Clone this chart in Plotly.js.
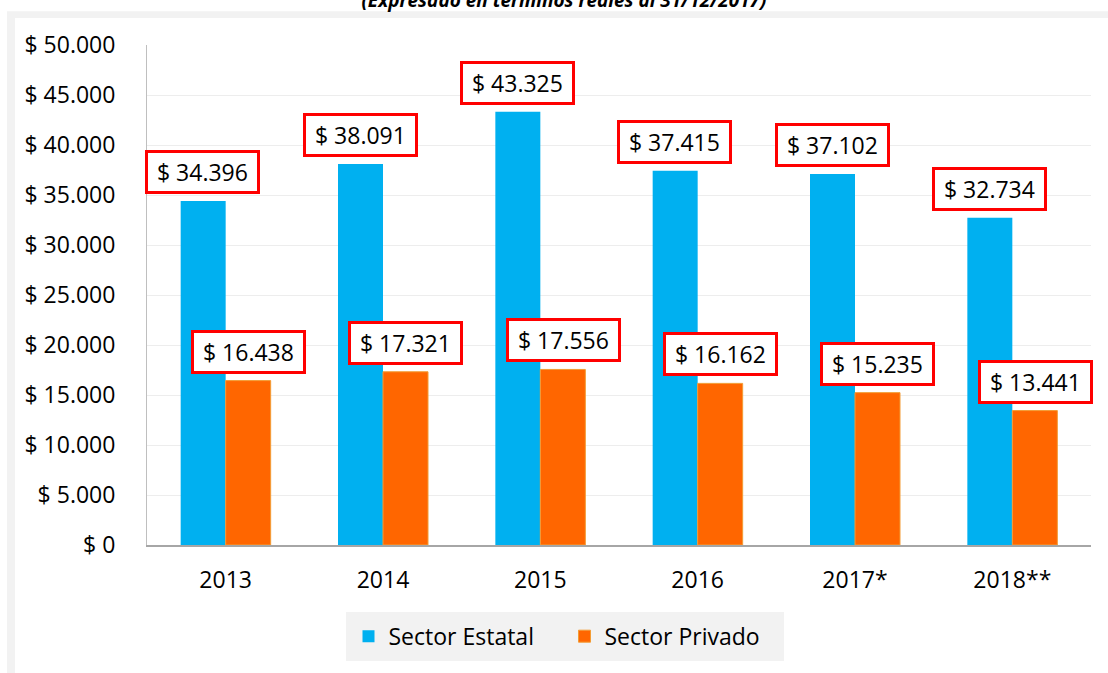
<!DOCTYPE html>
<html>
<head>
<meta charset="utf-8">
<script src="https://cdn.plot.ly/plotly-3.0.1.min.js"></script>
<style>
  html, body { margin: 0; padding: 0; background: #ffffff; }
  #chart { width: 1108px; height: 673px; }
</style>
</head>
<body>
<div id="chart"></div>
<script>
// ---- Data ----
const years = ['2013', '2014', '2015', '2016', '2017*', '2018**'];
const estatal = [34396, 38091, 43325, 37415, 37102, 32734];
const privado = [16438, 17321, 17556, 16162, 15235, 13441];
const yTickVals = [0, 5000, 10000, 15000, 20000, 25000, 30000, 35000, 40000, 45000, 50000];
const yTickText = ['$ 0', '$ 5.000', '$ 10.000', '$ 15.000', '$ 20.000', '$ 25.000',
                   '$ 30.000', '$ 35.000', '$ 40.000', '$ 45.000', '$ 50.000'];
const seriesNames = ['Sector Estatal', 'Sector Privado'];
const titleText = '(Expresado en términos reales al 31/12/2017)';

function fmt(v) {
  return '$ ' + String(v).replace(/\B(?=(\d{3})+(?!\d))/g, '.');
}

const FONT = 'Open Sans, Noto Sans, sans-serif';
const BLUE = '#00B0F0';
const ORANGE = '#FF6600';

const traces = [
  {
    type: 'bar', name: seriesNames[0], x: years, y: estatal,
    marker: { color: BLUE, line: { width: 0 } },
    hoverinfo: 'skip'
  },
  {
    type: 'bar', name: seriesNames[1], x: years, y: privado,
    marker: { color: ORANGE, line: { width: 1, color: '#F39C34' } },
    hoverinfo: 'skip'
  }
];

const annotations = [];
const shiftPx = 22.75;
function addLabels(vals, dx) {
  vals.forEach((v, i) => {
    annotations.push({
      x: i, y: v, xref: 'x', yref: 'y',
      xshift: dx, yshift: 7,
      yanchor: 'bottom', xanchor: 'center',
      text: '\u00a0' + fmt(v) + '\u00a0',
      showarrow: false,
      font: { family: FONT, size: 23, color: '#000000' },
      bgcolor: '#ffffff',
      bordercolor: '#FF0000',
      borderwidth: 3,
      borderpad: 3
    });
  });
}
addLabels(estatal, -shiftPx);
addLabels(privado, shiftPx);

// frame (paper coordinates derived from margins)
const L = 147, R = 17, T = 45, B = 126, W = 1108, H = 673;
const pw = W - L - R, ph = H - T - B;
const px = v => (v - L) / pw;
const py = v => (H - B - v) / ph;

const shapes = [
  { type: 'rect', xref: 'paper', yref: 'paper', layer: 'below',
    x0: px(7), x1: px(1115), y0: py(680), y1: py(11),
    fillcolor: '#f2f2f2', line: { width: 0 } },
  { type: 'rect', xref: 'paper', yref: 'paper', layer: 'below',
    x0: px(15), x1: px(1115), y0: py(680), y1: py(18),
    fillcolor: '#ffffff', line: { width: 0 } }
];

const layout = {
  width: W, height: H,
  margin: { l: L, r: R, t: T, b: B, pad: 0 },
  paper_bgcolor: '#ffffff',
  plot_bgcolor: '#ffffff',
  font: { family: FONT, size: 23, color: '#000000' },
  title: {
    text: '<b><i>' + titleText + '</i></b>',
    font: { family: FONT, size: 19, color: '#000000' },
    xref: 'container', yref: 'container',
    x: 0.509, xanchor: 'center', y: 1.0, yanchor: 'middle'
  },
  barmode: 'group',
  bargap: 0.428,
  bargroupgap: 0,
  showlegend: true,
  legend: {
    orientation: 'h',
    x: px(564.5), xanchor: 'center',
    y: py(614), yanchor: 'top',
    bgcolor: '#f2f2f2',
    bordercolor: '#f2f2f2', borderwidth: 3,
    entrywidth: 171,
    font: { family: FONT, size: 23, color: '#000000' },
    itemclick: false, itemdoubleclick: false
  },
  xaxis: {
    type: 'category',
    categoryorder: 'array', categoryarray: years,
    range: [-0.5, years.length - 0.5],
    showgrid: false,
    showline: true, linecolor: '#a6a6a6', linewidth: 2,
    ticks: '', ticklabelstandoff: 13,
    tickfont: { family: FONT, size: 23, color: '#000000' },
    fixedrange: true
  },
  yaxis: {
    range: [0, 50000],
    tickvals: yTickVals, ticktext: yTickText,
    showgrid: true, gridcolor: '#ededed', gridwidth: 1,
    zeroline: false,
    showline: true, linecolor: '#bfbfbf', linewidth: 1,
    ticks: '', ticklabelstandoff: 26,
    tickfont: { family: FONT, size: 23, color: '#000000' },
    fixedrange: true
  },
  annotations: annotations,
  shapes: shapes
};

Plotly.newPlot('chart', traces, layout, { displayModeBar: false, staticPlot: true });
</script>
</body>
</html>
